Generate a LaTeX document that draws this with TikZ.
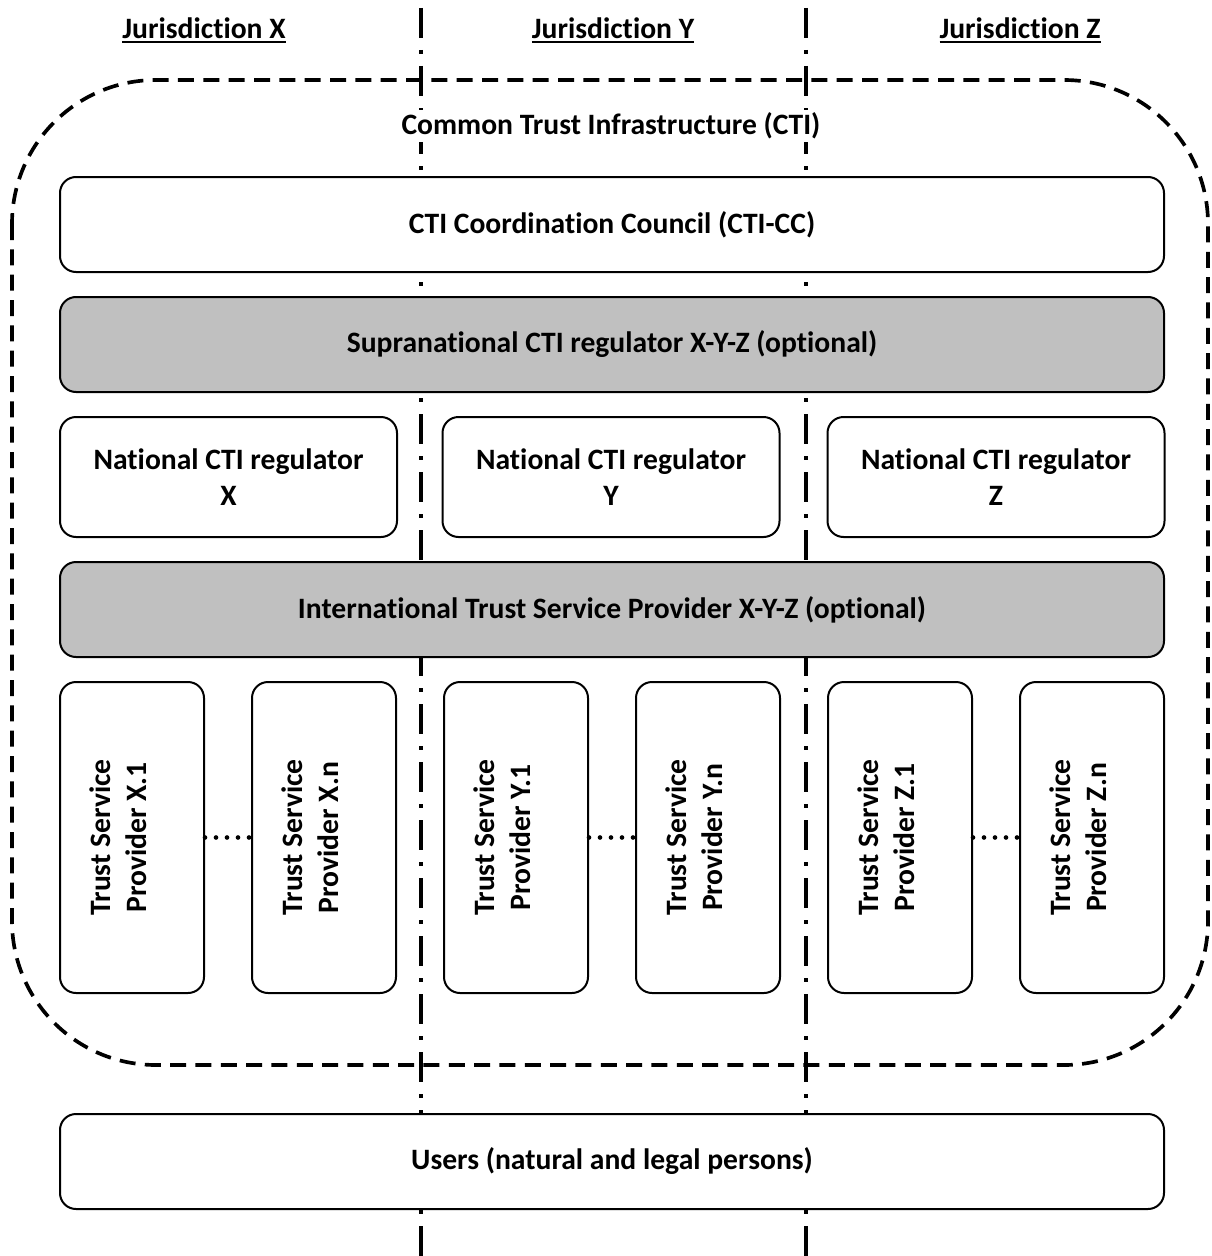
\documentclass[tikz,border=0pt]{standalone}
\usepackage{fontspec}
\setmainfont{Carlito}[Ligatures=NoCommon]
\usepackage{tikz}
\usetikzlibrary{positioning}
\definecolor{optionalColor}{HTML}{C0C0C0}
\newcommand{\jurisdiction}[1]{\setbox0\hbox{#1}\rlap{\rule[-3.5pt]{\wd0}{1.5pt}}\box0}

\tikzset{
  txt/.style={font=\bfseries\fontsize{22.2}{27.5}\selectfont, align=center, inner sep=0pt},
  box/.style={txt, draw, line width=1.5pt, rounded corners=12pt, fill=white},
  widebox/.style={box, minimum width=828pt, minimum height=71.25pt},
  regbox/.style={box, minimum width=252.75pt, minimum height=90pt},
  tspbox/.style={box, rotate=90, minimum width=233.25pt, minimum height=108pt, text depth=21pt},
  optional/.style={fill=optionalColor},
  border/.style={line width=3pt, dash pattern=on 22.5pt off 9pt on 3pt off 9pt},
  dots/.style={line width=3.5pt, line cap=round, dash pattern=on 0pt off 8.25pt}
}

\begin{document}
\begin{tikzpicture}[x=0.75pt, y=-0.75pt]
  \useasboundingbox (0,0) rectangle (1211,1256);

  % jurisdictions
  \node[txt] (jurX) at (204,30) {\jurisdiction{Jurisdiction X}};
  \node[txt] (jurY) at (613,30) {\jurisdiction{Jurisdiction Y}};
  \node[txt] (jurZ) at (1020,30) {\jurisdiction{Jurisdiction Z}};
  \coordinate (xyTop) at (421,8);
  \coordinate (xyBot) at (421,1256);
  \coordinate (yzTop) at (806,8);
  \coordinate (yzBot) at (806,1256);
  \draw[border] (xyTop) -- (xyBot);
  \draw[border] (yzTop) -- (yzBot);

  % common trust infrastructure
  \draw[line width=2.75pt, dash pattern=on 12pt off 7pt, rounded corners=108pt] (12,80) rectangle (1208,1065);
  \node[txt, fill=white, inner sep=2pt] (cti) at (611,126) {Common Trust Infrastructure (CTI)};

  \node[widebox] (cc) at (612,224.5) {CTI Coordination Council (CTI-CC)};
  \node[widebox, optional] (supra) at (612,344.5) {Supranational CTI regulator X-Y-Z (optional)};

  \node[regbox] (regX) at (228.5,477) {National CTI regulator\\X};
  \node[regbox] (regY) at (611,477) {National CTI regulator\\Y};
  \node[regbox] (regZ) at (996,477) {National CTI regulator\\Z};

  \node[widebox, optional] (itsp) at (612,609.5) {International Trust Service Provider X-Y-Z (optional)};

  % trust service providers
  \node[tspbox] (tspX1) at (132,837.5) {Trust Service\\Provider X.1};
  \node[tspbox] (tspXn) at (324,837.5) {Trust Service\\Provider X.n};
  \node[tspbox] (tspY1) at (516,837.5) {Trust Service\\Provider Y.1};
  \node[tspbox] (tspYn) at (708,837.5) {Trust Service\\Provider Y.n};
  \node[tspbox] (tspZ1) at (900,837.5) {Trust Service\\Provider Z.1};
  \node[tspbox] (tspZn) at (1092,837.5) {Trust Service\\Provider Z.n};
  \draw[dots] (tspX1.south) -- (tspXn.north);
  \draw[dots] (tspY1.south) -- (tspYn.north);
  \draw[dots] (tspZ1.south) -- (tspZn.north);

  \node[widebox] (users) at (612,1161.5) {Users (natural and legal persons)};
\end{tikzpicture}
\end{document}
